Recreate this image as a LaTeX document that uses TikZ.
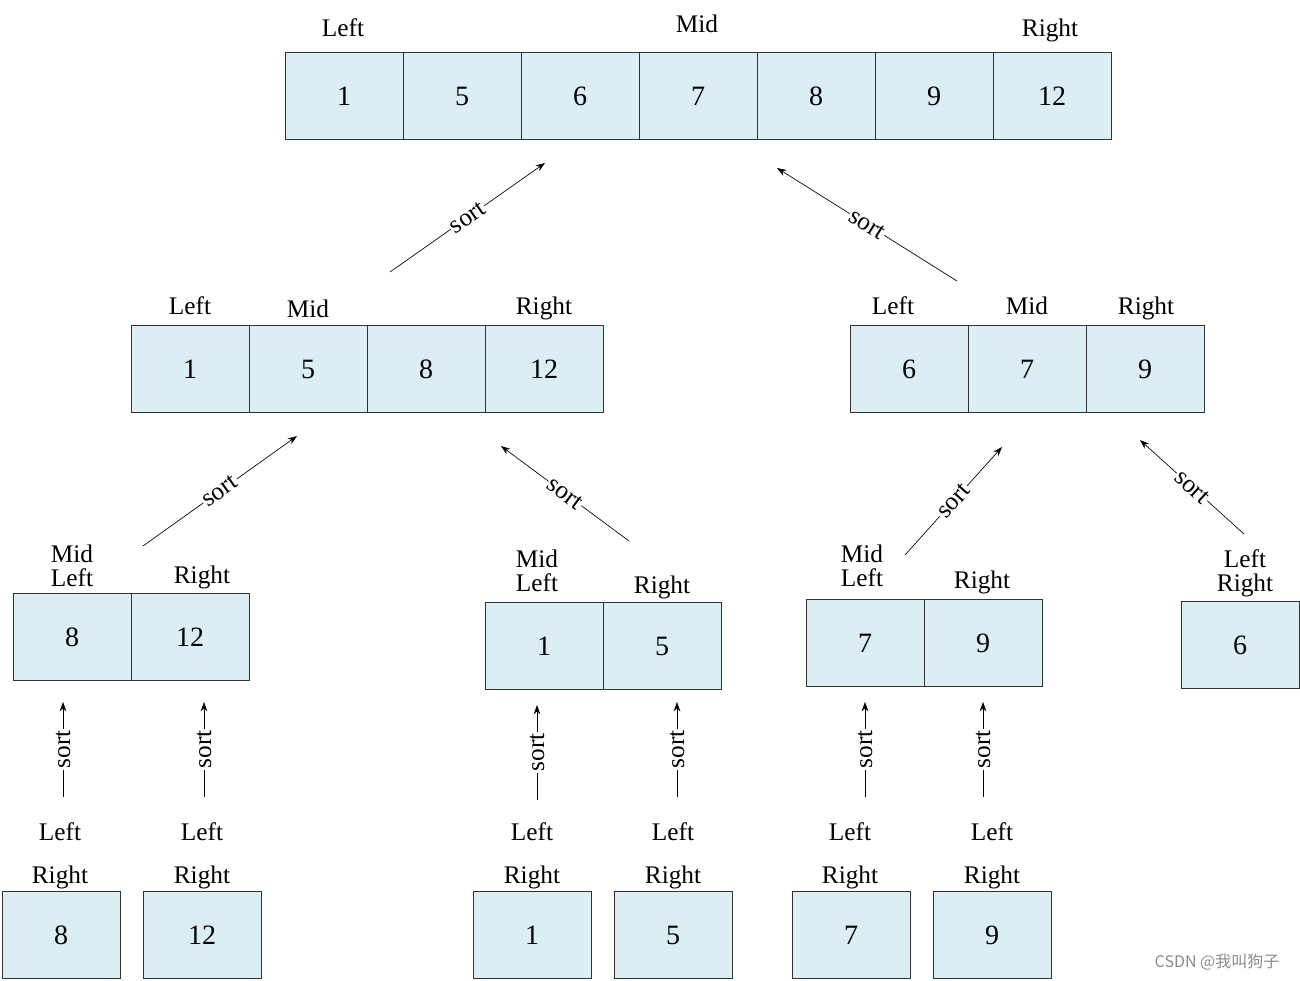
\documentclass[tikz,border=0pt]{standalone}
\usepackage{fontspec}
\setmainfont{Liberation Serif}
\newfontfamily\cjk{Noto Sans CJK SC}
\usetikzlibrary{positioning,arrows.meta}
\definecolor{cellblue}{RGB}{218,238,243}

\begin{document}
\begin{tikzpicture}[x=0.75pt, y=-0.75pt,
  cell/.style = {draw = black!80, fill = cellblue, shape = rectangle, line width = 0.6pt, outer sep = 0pt, minimum width = 88.5pt, minimum height = 65.25pt, font = \fontsize{21}{24}\selectfont},
  lbl/.style = {inner sep = 0pt, align = center, text depth = 0pt, font = \fontsize{19}{18}\selectfont},
  sortarrow/.style = {-{Stealth[length=7pt, width=5pt]}, line width = 0.5pt},
  sortlbl/.style = {midway, sloped, fill = white, inner sep = 1pt, font = \fontsize{19}{20}\selectfont}]
\useasboundingbox (0,0) rectangle (1300,981);

% top row
\node[cell] (t1) at (344,96) {1};
\node[cell, right = 0pt of t1] (t2) {5};
\node[cell, right = 0pt of t2] (t3) {6};
\node[cell, right = 0pt of t3] (t4) {7};
\node[cell, right = 0pt of t4] (t5) {8};
\node[cell, right = 0pt of t5] (t6) {9};
\node[cell, right = 0pt of t6] (t7) {12};
\node[lbl] (t1l) at (343,28) {Left};
\node[lbl] (t4l) at (697,24) {Mid};
\node[lbl] (t7l) at (1050,28) {Right};

% second row
\node[cell] (l1) at (190,369) {1};
\node[cell, right = 0pt of l1] (l2) {5};
\node[cell, right = 0pt of l2] (l3) {8};
\node[cell, right = 0pt of l3] (l4) {12};
\node[lbl] (l1l) at (190,306) {Left};
\node[lbl] (l2l) at (308,309) {Mid};
\node[lbl] (l4l) at (544,306) {Right};

\node[cell] (r1) at (909,369) {6};
\node[cell, right = 0pt of r1] (r2) {7};
\node[cell, right = 0pt of r2] (r3) {9};
\node[lbl] (r1l) at (893,306) {Left};
\node[lbl] (r2l) at (1027,306) {Mid};
\node[lbl] (r3l) at (1146,306) {Right};

% third row
\node[cell] (a1) at (72,637) {8};
\node[cell, right = 0pt of a1] (a2) {12};
\node[lbl] (a1l) at (72,566) {Mid\\Left};
\node[lbl] (a2l) at (202,575) {Right};

\node[cell] (b1) at (544,646) {1};
\node[cell, right = 0pt of b1] (b2) {5};
\node[lbl] (b1l) at (537,571) {Mid\\Left};
\node[lbl] (b2l) at (662,585) {Right};

\node[cell] (c1) at (865,643) {7};
\node[cell, right = 0pt of c1] (c2) {9};
\node[lbl] (c1l) at (862,566) {Mid\\Left};
\node[lbl] (c2l) at (982,580) {Right};

\node[cell] (d1) at (1240,645) {6};
\node[lbl] (d1l) at (1245,571) {Left\\Right};

% bottom row
\node[cell] (e1) at (61,935) {8};
\node[cell] (e2) at (202,935) {12};
\node[cell] (e3) at (532,935) {1};
\node[cell] (e4) at (673,935) {5};
\node[cell] (e5) at (851,935) {7};
\node[cell] (e6) at (992,935) {9};
\node[lbl] (e1a) at (60,832) {Left};
\node[lbl] (e1b) at (60,875) {Right};
\node[lbl] (e2a) at (202,832) {Left};
\node[lbl] (e2b) at (202,875) {Right};
\node[lbl] (e3a) at (532,832) {Left};
\node[lbl] (e3b) at (532,875) {Right};
\node[lbl] (e4a) at (673,832) {Left};
\node[lbl] (e4b) at (673,875) {Right};
\node[lbl] (e5a) at (850,832) {Left};
\node[lbl] (e5b) at (850,875) {Right};
\node[lbl] (e6a) at (992,832) {Left};
\node[lbl] (e6b) at (992,875) {Right};

% arrow ends
\coordinate (s1) at (390,272);  \coordinate (f1) at (545,163);
\coordinate (s2) at (957,281);  \coordinate (f2) at (777,168);
\coordinate (s3) at (143,546);  \coordinate (f3) at (297,436);
\coordinate (s4) at (629,541);  \coordinate (f4) at (501,446);
\coordinate (s5) at (905,555);  \coordinate (f5) at (1002,447);
\coordinate (s6) at (1244,534); \coordinate (f6) at (1140,440);
\coordinate (v1s) at (63,797);  \coordinate (v1f) at (63,702);
\coordinate (v2s) at (204,797); \coordinate (v2f) at (204,702);
\coordinate (v3s) at (537,800); \coordinate (v3f) at (537,705);
\coordinate (v4s) at (677,797); \coordinate (v4f) at (677,702);
\coordinate (v5s) at (865,797); \coordinate (v5f) at (865,702);
\coordinate (v6s) at (983,797); \coordinate (v6f) at (983,702);

\draw[sortarrow] (s1) -- (f1) node[sortlbl] {sort};
\draw[sortarrow] (s2) -- (f2) node[sortlbl] {sort};
\draw[sortarrow] (s3) -- (f3) node[sortlbl] {sort};
\draw[sortarrow] (s4) -- (f4) node[sortlbl] {sort};
\draw[sortarrow] (s5) -- (f5) node[sortlbl] {sort};
\draw[sortarrow] (s6) -- (f6) node[sortlbl] {sort};
\draw[sortarrow] (v1s) -- (v1f) node[sortlbl] {sort};
\draw[sortarrow] (v2s) -- (v2f) node[sortlbl] {sort};
\draw[sortarrow] (v3s) -- (v3f) node[sortlbl] {sort};
\draw[sortarrow] (v4s) -- (v4f) node[sortlbl] {sort};
\draw[sortarrow] (v5s) -- (v5f) node[sortlbl] {sort};
\draw[sortarrow] (v6s) -- (v6f) node[sortlbl] {sort};

\node[text = black!45, font = \cjk\fontsize{12}{14}\selectfont] (mark) at (1217,962) {CSDN @我叫狗子};
\end{tikzpicture}
\end{document}
